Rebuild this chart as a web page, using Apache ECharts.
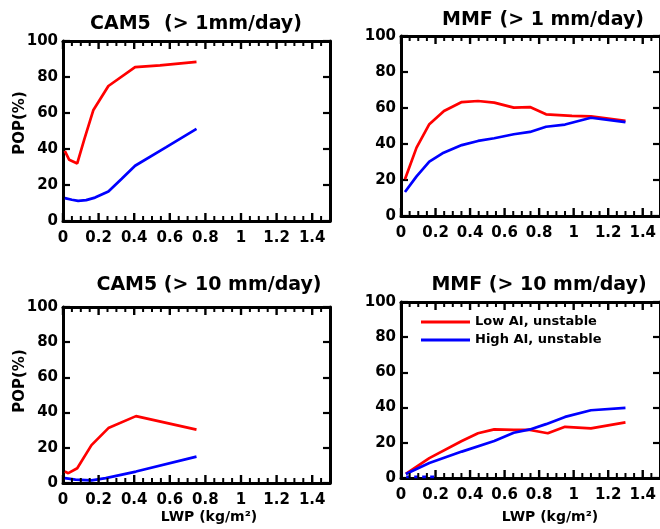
<!DOCTYPE html>
<html>
<head>
<meta charset="utf-8">
<script src="https://cdn.jsdelivr.net/npm/echarts@6/dist/echarts.min.js"></script>
<style>html,body{margin:0;padding:0;background:#fff;}#c{width:660px;height:529px;}</style>
</head>
<body>
<div id="c"></div>
<script>
// ---- data: [LWP (kg/m2), POP (%)] ----
const titles = ['CAM5  (> 1mm/day)', 'MMF (> 1 mm/day)', 'CAM5 (> 10 mm/day)', 'MMF (> 10 mm/day)'];
const legendNames = ['Low AI, unstable', 'High AI, unstable'];
const xTicks = [0, 0.2, 0.4, 0.6, 0.8, 1, 1.2, 1.4];
const xMinorTicks = [0.05, 0.1, 0.15, 0.25, 0.3, 0.35, 0.45, 0.5, 0.55, 0.65, 0.7, 0.75, 0.85, 0.9, 0.95, 1.05, 1.1, 1.15, 1.25, 1.3, 1.35, 1.45];
const yTicks = [0, 20, 40, 60, 80, 100];

const cam1Red  = [[0.01,39],[0.035,34],[0.08,32],[0.12,45.5],[0.17,61.5],[0.255,75],[0.405,85.5],[0.545,86.5],[0.75,88.4]];
const cam1Blue = [[0.01,12.7],[0.05,11.8],[0.085,11.2],[0.13,11.6],[0.18,13],[0.255,16.4],[0.33,23.5],[0.405,30.7],[0.58,41],[0.75,51.2]];

const mmf1Red  = [[0.023,20.4],[0.09,38],[0.164,51],[0.249,58.3],[0.352,63.3],[0.446,63.9],[0.54,63],[0.653,60.2],[0.747,60.5],[0.84,56.5],[0.99,55.6],[1.1,55.3],[1.3,52.8]];
const mmf1Blue = [[0.023,13.3],[0.09,22],[0.164,30.2],[0.24,34.8],[0.352,39.4],[0.446,41.7],[0.54,43.2],[0.653,45.4],[0.747,46.7],[0.84,49.6],[0.95,50.8],[1.1,54.6],[1.3,52.2]];

const cam10Red  = [[0.01,6.5],[0.03,5.6],[0.08,8.4],[0.16,21.5],[0.255,31.2],[0.41,38],[0.75,30.3]];
const cam10Blue = [[0.01,2.8],[0.07,1.9],[0.16,1.5],[0.24,2.8],[0.41,6.5],[0.75,15]];

const mmf10Red  = [[0.028,2.3],[0.164,11.3],[0.352,21],[0.446,25.4],[0.54,27.6],[0.653,27.3],[0.747,27.3],[0.85,25.4],[0.95,29.1],[1.1,28.2],[1.3,31.6]];
const mmf10Blue = [[0.028,2.3],[0.164,8.5],[0.352,15],[0.54,21],[0.653,25.7],[0.747,27.6],[0.84,30.6],[0.95,34.7],[1.1,38.5],[1.3,39.8]];
const mmf10BlueDash = [[0.03,0.6],[0.2,0.6]];

// ---- layout ----
const FONT = 'DejaVu Sans';
const grids = [
  {left: 63,  top: 41,  width: 267, height: 180},
  {left: 401, top: 36,  width: 266, height: 180},
  {left: 63,  top: 307, width: 267, height: 176},
  {left: 401, top: 302, width: 266, height: 176}
];
const titlePos = [[196, 24], [543, 20], [209, 285], [539, 285]];

function xAxisDef(i, pos) {
  return {
    type: 'value', gridIndex: i, min: 0, max: 1.5, interval: 0.2, position: pos,
    axisLine: {show: true, onZero: false, lineStyle: {color: '#000', width: 3}},
    splitLine: {show: false},
    axisTick: {show: false},
    axisLabel: pos === 'bottom' ? {
      show: true, margin: 10, showMaxLabel: false, color: '#000', fontFamily: FONT, fontWeight: 'bold', fontSize: 15,
      formatter: v => (xTicks.some(t => Math.abs(t - v) < 1e-6) ? String(+v.toFixed(1)) : '')
    } : {show: false}
  };
}
function yAxisDef(i, pos) {
  return {
    type: 'value', gridIndex: i, min: 0, max: 100, interval: 20, position: pos,
    axisLine: {show: true, onZero: false, lineStyle: {color: '#000', width: 3}},
    splitLine: {show: false},
    axisTick: {show: true, inside: true, length: 7, lineStyle: {color: '#000', width: 2.2}},
    axisLabel: pos === 'left' ? {
      show: true, margin: 5, color: '#000', fontFamily: FONT, fontWeight: 'bold', fontSize: 15,
      formatter: v => (yTicks.indexOf(v) >= 0 ? String(v) : '')
    } : {show: false}
  };
}
const xAxes = [], yAxes = [];
grids.forEach((g, i) => {
  xAxes.push(xAxisDef(i, 'bottom'), xAxisDef(i, 'top'));
  yAxes.push(yAxisDef(i, 'left'), yAxisDef(i, 'right'));
});

function ser(name, data, color, gi, dashed) {
  return {
    name: name, type: 'line', data: data, xAxisIndex: 2 * gi, yAxisIndex: 2 * gi,
    symbol: 'none', smooth: false, clip: true, silent: true,
    lineStyle: {color: color, width: 2.7, type: dashed ? [4, 4] : 'solid'},
    itemStyle: {color: color}
  };
}
// x ticks (major + minor, on bottom and top frame edges), positioned through the axis scale
const tickData = xTicks.map(v => [v, 1]).concat(xMinorTicks.map(v => [v, 0]));
function tickSeries(gi) {
  return {
    type: 'custom', xAxisIndex: 2 * gi, yAxisIndex: 2 * gi, silent: true, clip: false, z: 5,
    data: tickData,
    renderItem: (params, api) => {
      const v = api.value(0), major = api.value(1) === 1;
      const b = api.coord([v, 0]), t = api.coord([v, 100]);
      const L = major ? 8 : 5;
      const st = {stroke: '#000', lineWidth: major ? 2.4 : 2};
      return {type: 'group', children: [
        {type: 'line', shape: {x1: b[0], y1: b[1], x2: b[0], y2: b[1] - L}, style: st},
        {type: 'line', shape: {x1: t[0], y1: t[1], x2: t[0], y2: t[1] + L}, style: st}
      ]};
    }
  };
}
const RED = '#ff0000', BLUE = '#0000ff';
const series = [
  ser(legendNames[0], cam1Red, RED, 0), ser(legendNames[1], cam1Blue, BLUE, 0),
  ser(legendNames[0], mmf1Red, RED, 1), ser(legendNames[1], mmf1Blue, BLUE, 1),
  ser(legendNames[0], cam10Red, RED, 2), ser(legendNames[1], cam10Blue, BLUE, 2),
  ser(legendNames[0], mmf10Red, RED, 3), ser(legendNames[1], mmf10Blue, BLUE, 3),
  ser('dash', mmf10BlueDash, BLUE, 3, true),
  tickSeries(0), tickSeries(1), tickSeries(2), tickSeries(3)
];

const graphics = [];
titles.forEach((t, i) => {
  graphics.push({type: 'text', x: titlePos[i][0], y: titlePos[i][1],
    style: {text: t, fill: '#000', font: 'bold 19px "' + FONT + '"', textAlign: 'center', textVerticalAlign: 'middle'}});
});
[[20, 123], [20, 381]].forEach(p => {
  graphics.push({type: 'text', x: p[0], y: p[1], rotation: Math.PI / 2,
    style: {text: 'POP(%)', fill: '#000', font: 'bold 15px "' + FONT + '"', textAlign: 'center', textVerticalAlign: 'middle'}});
});
[[209, 517], [550, 517]].forEach(p => {
  graphics.push({type: 'text', x: p[0], y: p[1],
    style: {text: 'LWP (kg/m²)', fill: '#000', font: 'bold 14px "' + FONT + '"', textAlign: 'center', textVerticalAlign: 'middle'}});
});

const chart = echarts.init(document.getElementById('c'), null, {renderer: 'canvas'});
chart.setOption({
  backgroundColor: '#fff',
  animation: false,
  grid: grids,
  xAxis: xAxes,
  yAxis: yAxes,
  series: series,
  legend: {
    data: legendNames, orient: 'vertical', left: 421, top: 314, padding: 0,
    icon: 'rect', itemWidth: 49, itemHeight: 3, itemGap: 2, itemTextGap: 5,
    selectedMode: false,
    textStyle: {color: '#000', fontFamily: FONT, fontWeight: 'bold', fontSize: 13, lineHeight: 16}
  },
  graphic: graphics
});
</script>
</body>
</html>
